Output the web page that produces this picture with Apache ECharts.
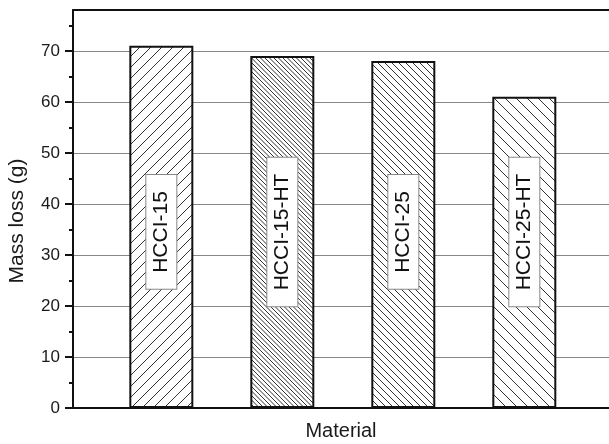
<!DOCTYPE html>
<html>
<head>
<meta charset="utf-8">
<script src="https://cdn.jsdelivr.net/npm/echarts@6/dist/echarts.min.js"></script>
<style>
  html, body { margin: 0; padding: 0; background: #fff; }
  #chart { width: 609px; height: 444px; }
</style>
</head>
<body>
<div id="chart"></div>
<script>
// data
const categories = ['HCCI-15', 'HCCI-15-HT', 'HCCI-25', 'HCCI-25-HT'];
const massLoss = [71, 69, 68, 61];
const yTicks = [0, 10, 20, 30, 40, 50, 60, 70];
const yMinorTicks = [5, 15, 25, 35, 45, 55, 65, 75];
const labelY = 34.5; // where the white name boxes sit

// hatch spacing (px) and direction per bar
const hatchStep = [11, 4.5, 7, 11];
const hatchDir = ['/', '\\', '\\', '\\'];

function hatch(step, dir) {
  // tile with white background so grid lines don't show through
  const n = Math.round(step * 4);
  const c = document.createElement('canvas');
  c.width = n; c.height = n;
  const ctx = c.getContext('2d');
  ctx.fillStyle = '#fff';
  ctx.fillRect(0, 0, n, n);
  ctx.strokeStyle = '#333';
  ctx.lineWidth = 1;
  ctx.beginPath();
  for (let k = -n; k <= 2 * n; k += step) {
    if (dir === '/') {
      ctx.moveTo(k - n, n); ctx.lineTo(k, 0);
    } else {
      ctx.moveTo(k, n); ctx.lineTo(k - n, 0);
    }
  }
  ctx.stroke();
  return { image: c, repeat: 'repeat' };
}

let myChart = echarts.init(document.getElementById('chart'));
let font = 'Liberation Sans, Arial, sans-serif';
let frame = { show: true, onZero: false, lineStyle: { color: '#111', width: 2 } };

let option = {
  backgroundColor: '#fff',
  animation: false,
  grid: {
    left: 73,
    top: 10,
    bottom: 36,
    right: 0,
  },
  xAxis: [
    {
      type: 'value',
      min: 0.27,
      max: 4.7,
      axisLine: frame,
      axisTick: { show: false },
      axisLabel: { show: false },
      splitLine: { show: false },
    },
    {
      // top frame line only
      type: 'value',
      position: 'top',
      min: 0.27,
      max: 4.7,
      axisLine: frame,
      axisTick: { show: false },
      axisLabel: { show: false },
      splitLine: { show: false },
    },
  ],
  yAxis: [
    {
      type: 'value',
      min: 0,
      max: 78,
      interval: 10,
      axisLine: frame,
      axisTick: {
        show: true,
        length: 8,
        customValues: yTicks,
        lineStyle: { color: '#111', width: 2 },
      },
      axisLabel: {
        customValues: yTicks,
        color: '#1a1a1a',
        fontSize: 17,
        fontFamily: font,
        margin: 13,
      },
      splitLine: { show: true, lineStyle: { color: '#888', width: 1 } },
    },
    {
      type: 'value',
      min: 0,
      max: 78,
      interval: 5,
      position: 'left',
      axisLine: { show: false },
      axisTick: {
        show: true,
        length: 4,
        customValues: yMinorTicks,
        lineStyle: { color: '#111', width: 2 },
      },
      axisLabel: { show: false },
      splitLine: { show: false },
    },
  ],
  graphic: [
    {
      type: 'text',
      x: 341,
      y: 431,
      style: {
        text: 'Material',
        font: '20px ' + font,
        fill: '#1a1a1a',
        align: 'center',
        verticalAlign: 'middle',
      },
    },
    {
      type: 'text',
      x: 17,
      y: 221,
      rotation: Math.PI / 2,
      style: {
        text: 'Mass loss (g)',
        font: '21px ' + font,
        fill: '#1a1a1a',
        align: 'center',
        verticalAlign: 'middle',
      },
    },
  ],
  series: [
    {
      type: 'bar',
      barWidth: 64,
      data: massLoss.map((v, i) => ({
        value: [i + 1, v],
        itemStyle: {
          color: hatch(hatchStep[i], hatchDir[i]),
          borderColor: '#111',
          borderWidth: 2,
        },
      })),
    },
    {
      type: 'scatter',
      symbolSize: 0,
      z: 5,
      itemStyle: { opacity: 1 },
      emphasis: { disabled: true },
      data: categories.map((name, i) => ({ value: [i + 1, labelY], name: name })),
      label: {
        show: true,
        position: 'inside',
        rotate: 90,
        opacity: 1,
        formatter: p => p.name,
        color: '#111',
        fontSize: 21,
        fontFamily: font,
        lineHeight: 22,
        backgroundColor: '#fff',
        borderColor: '#888',
        borderWidth: 1,
        padding: [4, 16, 4, 16],
      },
    },
  ],
};
option && myChart.setOption(option);
</script>
</body>
</html>
